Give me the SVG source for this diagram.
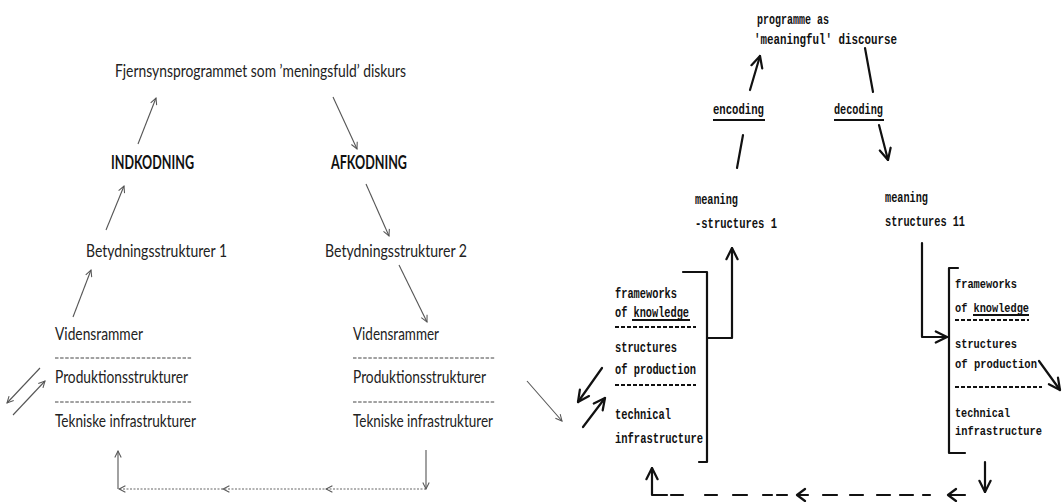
<svg xmlns="http://www.w3.org/2000/svg" width="1062" height="502" viewBox="0 0 1062 502">
<defs>
<style>
.l{font-family:Lato,"Liberation Sans",sans-serif;font-size:18px;fill:#222}
.lb{font-family:Lato,"Liberation Sans",sans-serif;font-size:18px;font-weight:bold;fill:#111}
.t{font-family:"Liberation Mono","DejaVu Sans Mono",monospace;font-size:14.5px;font-weight:bold;fill:#111}
.t2{font-family:"Liberation Mono","DejaVu Sans Mono",monospace;font-size:12.5px;font-weight:bold;fill:#111}
.thin{fill:none;stroke:#555;stroke-width:1.1}
.dots{fill:none;stroke:#666;stroke-width:1.2;stroke-dasharray:2 1.5}
.ldash{fill:none;stroke:#444;stroke-width:1;stroke-dasharray:3.5 1.6}
.ink{fill:none;stroke:#111;stroke-width:2.2;stroke-linecap:round;stroke-linejoin:round}
.tdash{fill:none;stroke:#111;stroke-width:2.2;stroke-dasharray:4 2}
.ul{fill:none;stroke:#111;stroke-width:1.8}
</style>
<marker id="ah" viewBox="0 0 10 10" refX="9" refY="5" markerWidth="8" markerHeight="8" markerUnits="userSpaceOnUse" orient="auto">
<path d="M1,1 L9,5 L1,9" fill="none" stroke="#555" stroke-width="1.3"/>
</marker>
<marker id="hb" viewBox="0 0 10 10" refX="9" refY="5" markerWidth="14" markerHeight="14" markerUnits="userSpaceOnUse" orient="auto">
<path d="M1,1 L9,5 L1,9" fill="none" stroke="#111" stroke-width="1.6" stroke-linecap="round" stroke-linejoin="round"/>
</marker>
</defs>
<rect width="1062" height="502" fill="#fff"/>

<!-- LEFT HALF (Danish) -->
<g id="l-program"><text class="l" x="115" y="77" textLength="291" lengthAdjust="spacingAndGlyphs">Fjernsynsprogrammet som ’meningsfuld’ diskurs</text></g>
<g id="l-indkodning"><text class="lb" x="111" y="169" textLength="83" lengthAdjust="spacingAndGlyphs">INDKODNING</text></g>
<g id="l-afkodning"><text class="lb" x="331" y="169" textLength="76" lengthAdjust="spacingAndGlyphs">AFKODNING</text></g>
<g id="l-bet1"><text class="l" x="86" y="257" textLength="141" lengthAdjust="spacingAndGlyphs">Betydningsstrukturer 1</text></g>
<g id="l-bet2"><text class="l" x="325" y="257" textLength="142" lengthAdjust="spacingAndGlyphs">Betydningsstrukturer 2</text></g>
<g id="l-stack1">
<text class="l" x="55" y="340" textLength="88" lengthAdjust="spacingAndGlyphs">Vidensrammer</text>
<line class="ldash" x1="55" y1="358" x2="192" y2="358"/>
<text class="l" x="55" y="383" textLength="133" lengthAdjust="spacingAndGlyphs">Produktionsstrukturer</text>
<line class="ldash" x1="55" y1="402" x2="192" y2="402"/>
<text class="l" x="55" y="427" textLength="141" lengthAdjust="spacingAndGlyphs">Tekniske infrastrukturer</text>
</g>
<g id="l-stack2">
<text class="l" x="353" y="340" textLength="86" lengthAdjust="spacingAndGlyphs">Vidensrammer</text>
<line class="ldash" x1="353" y1="358" x2="495" y2="358"/>
<text class="l" x="353" y="383" textLength="133" lengthAdjust="spacingAndGlyphs">Produktionsstrukturer</text>
<line class="ldash" x1="353" y1="402" x2="495" y2="402"/>
<text class="l" x="353" y="427" textLength="140" lengthAdjust="spacingAndGlyphs">Tekniske infrastrukturer</text>
</g>

<!-- RIGHT HALF (English typescript) -->
<g id="r-program">
<text class="t" x="757" y="24" textLength="72" lengthAdjust="spacingAndGlyphs">programme as</text>
<text class="t" x="754" y="44" textLength="143" lengthAdjust="spacingAndGlyphs">'meaningful' discourse</text>
</g>
<g id="r-encoding"><text class="t" x="713" y="114" textLength="51" lengthAdjust="spacingAndGlyphs">encoding</text><line class="ul" x1="713" y1="120" x2="765" y2="120"/></g>
<g id="r-decoding"><text class="t" x="834" y="114" textLength="49" lengthAdjust="spacingAndGlyphs">decoding</text><line class="ul" x1="834" y1="120" x2="884" y2="120"/></g>
<g id="r-meaning1">
<text class="t" x="695" y="204" textLength="43" lengthAdjust="spacingAndGlyphs">meaning</text>
<text class="t" x="695" y="228" textLength="82" lengthAdjust="spacingAndGlyphs">-structures 1</text>
</g>
<g id="r-meaning2">
<text class="t" x="885" y="202" textLength="43" lengthAdjust="spacingAndGlyphs">meaning</text>
<text class="t" x="885" y="226" textLength="80" lengthAdjust="spacingAndGlyphs">structures 11</text>
</g>
<g id="r-stack1">
<path class="ink" d="M683,272 H707 V462 H699"/>
<text class="t" x="615" y="298" textLength="62" lengthAdjust="spacingAndGlyphs">frameworks</text>
<text class="t" x="615" y="317" textLength="74" lengthAdjust="spacingAndGlyphs">of knowledge</text>
<line class="ul" x1="632" y1="320" x2="690" y2="320"/>
<line class="tdash" x1="615" y1="327" x2="696" y2="327"/>
<text class="t" x="615" y="352" textLength="62" lengthAdjust="spacingAndGlyphs">structures</text>
<text class="t" x="615" y="374" textLength="81" lengthAdjust="spacingAndGlyphs">of production</text>
<line class="tdash" x1="615" y1="385" x2="696" y2="385"/>
<text class="t" x="615" y="419" textLength="56" lengthAdjust="spacingAndGlyphs">technical</text>
<text class="t" x="615" y="443" textLength="88" lengthAdjust="spacingAndGlyphs">infrastructure</text>
</g>
<g id="r-stack2">
<path class="ink" d="M958,268 H949 V453 H965"/>
<text class="t2" x="955" y="288" textLength="62" lengthAdjust="spacingAndGlyphs">frameworks</text>
<text class="t2" x="955" y="312" textLength="74" lengthAdjust="spacingAndGlyphs">of knowledge</text>
<line class="ul" x1="973" y1="315" x2="1029" y2="315"/>
<line class="tdash" x1="955" y1="320" x2="1029" y2="320"/>
<text class="t2" x="955" y="348" textLength="62" lengthAdjust="spacingAndGlyphs">structures</text>
<text class="t2" x="955" y="368" textLength="82" lengthAdjust="spacingAndGlyphs">of production</text>
<line class="tdash" x1="955" y1="387" x2="1042" y2="387"/>
<text class="t2" x="955" y="417" textLength="55" lengthAdjust="spacingAndGlyphs">technical</text>
<text class="t2" x="955" y="435" textLength="87" lengthAdjust="spacingAndGlyphs">infrastructure</text>
</g>

<g id="connectors">
<!-- left half -->
<line class="thin" x1="138" y1="144" x2="156" y2="98" marker-end="url(#ah)"/>
<line class="thin" x1="333" y1="97" x2="357" y2="149" marker-end="url(#ah)"/>
<line class="thin" x1="106" y1="230" x2="124" y2="186" marker-end="url(#ah)"/>
<line class="thin" x1="366" y1="184" x2="389" y2="236" marker-end="url(#ah)"/>
<line class="thin" x1="73" y1="317" x2="91" y2="270" marker-end="url(#ah)"/>
<line class="thin" x1="399" y1="265" x2="427" y2="322" marker-end="url(#ah)"/>
<line class="thin" x1="40" y1="368" x2="7" y2="403" marker-end="url(#ah)"/>
<line class="thin" x1="13" y1="415" x2="45" y2="381" marker-end="url(#ah)"/>
<line class="thin" x1="527" y1="381" x2="562" y2="421" marker-end="url(#ah)"/>
<line class="thin" x1="426" y1="450" x2="426" y2="489" marker-end="url(#ah)"/>
<path class="dots" d="M426,489 L326,489 L223,489 L119,489" marker-mid="url(#ah)" marker-end="url(#ah)"/>
<line class="thin" x1="118" y1="489" x2="118" y2="451" marker-end="url(#ah)"/>

<!-- right half -->
<line class="ink" x1="750" y1="90" x2="760" y2="56" marker-end="url(#hb)"/>
<line class="ink" x1="865" y1="48" x2="873" y2="92"/>
<line class="ink" x1="743" y1="135" x2="737" y2="168"/>
<line class="ink" x1="879" y1="125" x2="888" y2="160" marker-end="url(#hb)"/>
<path class="ink" d="M707,338 H732 V248" marker-end="url(#hb)"/>
<path class="ink" d="M922,243 V337 H947" marker-end="url(#hb)"/>
<line class="ink" x1="602" y1="368" x2="578" y2="402" marker-end="url(#hb)"/>
<line class="ink" x1="583" y1="427" x2="605" y2="398" marker-end="url(#hb)"/>
<line class="ink" x1="1039" y1="361" x2="1060" y2="390" marker-end="url(#hb)"/>
<line class="ink" x1="985" y1="462" x2="985" y2="492" marker-end="url(#hb)"/>
<path class="ink" d="M667,495 H652 V468" marker-end="url(#hb)"/>
<path class="ink" d="M671,495 H683 M705,495 H717 M733,495 H747 M763,495 H772 M777,495 H787 M799,495 H808 M823,495 H837 M850,495 H863 M877,495 H890 M900,495 H913 M923,495 H930 M950,495 H965"/>
<path class="ink" d="M805,489 L797,495 L805,501"/>
<path class="ink" d="M956,489 L948,495 L956,501"/>
</g>
</svg>
